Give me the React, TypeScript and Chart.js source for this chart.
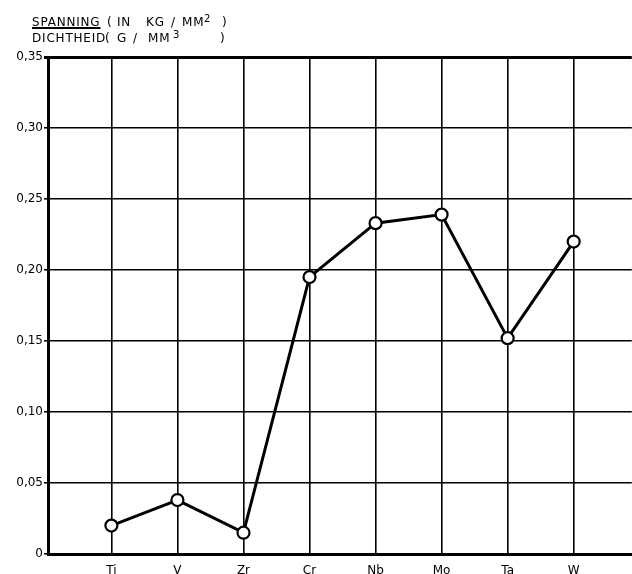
import React, { useEffect, useRef } from 'react';
import { Chart, registerables } from 'chart.js';

Chart.register(...registerables);

const categories = ['Ti', 'V', 'Zr', 'Cr', 'Nb', 'Mo', 'Ta', 'W'];
const values = [0.02, 0.038, 0.015, 0.195, 0.233, 0.239, 0.152, 0.22];
const yTickValues = [0, 0.05, 0.1, 0.15, 0.2, 0.25, 0.3, 0.35];
const yTickLabels = ['0', '0,05', '0,10', '0,15', '0,20', '0,25', '0,30', '0,35'];

const FONT = '"DejaVu Sans", sans-serif';

type Tok = { t: string; x: number; u?: boolean; sup?: boolean };
const titleLine1: Tok[] = [
  { t: 'SPANNING', x: 32, u: true },
  { t: '(', x: 107 },
  { t: 'IN', x: 117 },
  { t: 'KG', x: 146 },
  { t: '/', x: 171 },
  { t: 'MM', x: 182 },
  { t: '2', x: 204, sup: true },
  { t: ')', x: 222 },
];
const titleLine2: Tok[] = [
  { t: 'DICHTHEID', x: 32 },
  { t: '(', x: 105 },
  { t: 'G', x: 117 },
  { t: '/', x: 133 },
  { t: 'MM', x: 148 },
  { t: '3', x: 173, sup: true },
  { t: ')', x: 220 },
];

export default function App() {
  const ref = useRef<HTMLCanvasElement>(null);

  useEffect(() => {
    const chart = new Chart(ref.current as HTMLCanvasElement, {
      type: 'line',
      data: {
        datasets: [
          {
            data: values.map((v, i) => ({ x: i + 1, y: v })),
            borderColor: '#000',
            borderWidth: 3,
            pointRadius: 6,
            pointBorderWidth: 2.2,
            pointBackgroundColor: '#fff',
            pointBorderColor: '#000',
            tension: 0,
          },
        ],
      },
      options: {
        animation: false,
        responsive: false,
        maintainAspectRatio: false,
        layout: { padding: { top: 57, right: 0, left: 0, bottom: 0 } },
        plugins: { legend: { display: false }, tooltip: { enabled: false } },
        scales: {
          x: {
            type: 'linear',
            min: 0.04,
            max: 8.88,
            afterBuildTicks: (s: any) => {
              s.ticks = categories.map((_, i) => ({ value: i + 1 }));
            },
            afterFit: (s: any) => {
              s.height = 20;
            },
            ticks: {
              autoSkip: false,
              maxRotation: 0,
              padding: 10,
              color: '#000',
              font: { family: FONT, size: 12 },
              callback: (v: any) => categories[Number(v) - 1] ?? '',
            },
            grid: { color: '#000', lineWidth: 1.6, drawTicks: false },
            border: { color: '#000', width: 3 },
          },
          y: {
            type: 'linear',
            min: 0,
            max: 0.35,
            afterBuildTicks: (s: any) => {
              s.ticks = yTickValues.map((v) => ({ value: v }));
            },
            afterFit: (s: any) => {
              s.width = 48;
            },
            ticks: {
              color: '#000',
              padding: 1,
              font: { family: FONT, size: 12 },
              callback: (_v: any, i: number) => yTickLabels[i] ?? '',
            },
            grid: {
              color: '#000',
              lineWidth: (ctx: any) => (ctx.tick && ctx.tick.value >= 0.349 ? 3 : 1.6),
              tickLength: 4,
            },
            border: { color: '#000', width: 3 },
          },
        },
      },
    } as any);
    return () => chart.destroy();
  }, []);

  const renderLine = (toks: Tok[], top: number) =>
    toks.map((k, i) => (
      <span
        key={i}
        style={{
          position: 'absolute',
          left: k.x,
          top: k.sup ? top - 3 : top,
          fontFamily: FONT,
          fontSize: k.sup ? 10 : 12,
          lineHeight: '12px',
          letterSpacing: k.sup ? 0 : 0.8,
          whiteSpace: 'pre',
          color: '#000',
          textDecoration: k.u ? 'underline' : 'none',
          textDecorationThickness: k.u ? '1.5px' : undefined,
        }}
      >
        {k.t}
      </span>
    ));

  return (
    <div style={{ position: 'fixed', left: 0, top: 0, width: 632, height: 574, background: '#fff', overflow: 'hidden' }}>
      <canvas ref={ref} width={640} height={574} style={{ position: 'absolute', left: 0, top: 0 }} />
      {renderLine(titleLine1, 15.5)}
      {renderLine(titleLine2, 31.5)}
    </div>
  );
}
